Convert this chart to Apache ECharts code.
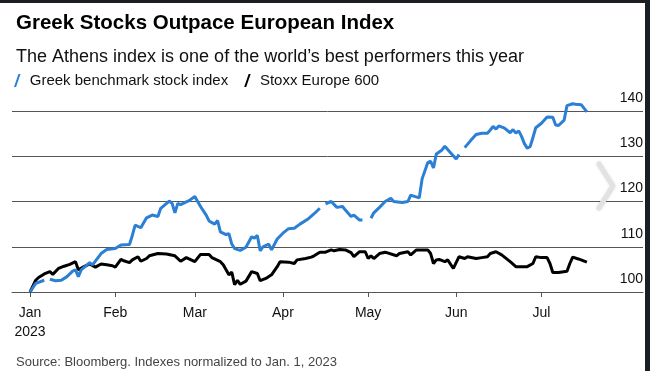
<!DOCTYPE html>
<html><head><meta charset="utf-8">
<script src="https://cdn.jsdelivr.net/npm/echarts@6/dist/echarts.min.js"></script>
<style>html,body{margin:0;padding:0;background:#fff;}#c{width:650px;height:371px;}</style>
</head><body><div id="c"></div>
<script>
const greekDates = ['2023-01-02','2023-01-04','2023-01-07','2023-01-08','2023-01-09','2023-01-11','2023-01-13','2023-01-15','2023-01-17','2023-01-18','2023-01-19','2023-01-20','2023-01-23','2023-01-24','2023-01-27','2023-01-29',
'2023-02-01','2023-02-03','2023-02-06','2023-02-07','2023-02-08','2023-02-10','2023-02-12','2023-02-14','2023-02-16','2023-02-17','2023-02-20','2023-02-21','2023-02-22','2023-02-23','2023-02-24','2023-02-26','2023-02-27',
'2023-03-01','2023-03-02','2023-03-03','2023-03-05','2023-03-06','2023-03-08','2023-03-09','2023-03-10','2023-03-12','2023-03-13','2023-03-14','2023-03-15','2023-03-17','2023-03-19','2023-03-21','2023-03-22','2023-03-23','2023-03-24','2023-03-25','2023-03-27','2023-03-28','2023-03-30',
'2023-04-01','2023-04-03','2023-04-05','2023-04-07','2023-04-10','2023-04-12','2023-04-14','2023-04-15','2023-04-16','2023-04-18','2023-04-20','2023-04-22','2023-04-23','2023-04-25','2023-04-26','2023-04-28','2023-04-29','2023-04-30',
'2023-05-02','2023-05-03','2023-05-05','2023-05-07','2023-05-09','2023-05-10','2023-05-13','2023-05-15','2023-05-16','2023-05-17','2023-05-19','2023-05-20','2023-05-22','2023-05-23','2023-05-24','2023-05-25','2023-05-27','2023-05-28','2023-05-30',
'2023-06-01','2023-06-02','2023-06-03','2023-06-04','2023-06-06','2023-06-08','2023-06-10','2023-06-12','2023-06-13','2023-06-14','2023-06-15','2023-06-16','2023-06-18','2023-06-20','2023-06-21','2023-06-22','2023-06-23','2023-06-24','2023-06-25','2023-06-26','2023-06-27','2023-06-28','2023-06-29',
'2023-07-01','2023-07-03','2023-07-05','2023-07-06','2023-07-07','2023-07-09','2023-07-10','2023-07-12','2023-07-13','2023-07-15','2023-07-17'];
const greekValues = [100,101.9,102.6,null,102.8,102.5,102.6,103.4,104.6,104.9,103.4,104.9,106.5,106,108.5,109.4,
109.6,110.4,110.5,112.5,114.8,114.2,116.4,117,116.7,118.5,120.1,119.6,117.5,119.6,119.3,119.9,120.2,
121.1,120,118.9,117,115.7,115,115.8,113.3,112.7,112.9,110.6,109.6,109.2,109.9,112.2,111.9,112.5,109.1,110,110.6,109.3,111.7,
113,114,114.1,115,116.2,117.3,118.5,null,119.5,120,118.7,118.9,118.1,116.7,117,115.9,115.9,null,
116.3,117.5,118.7,120,120.7,120,119.8,120,121.4,121.2,120.8,125,128.6,128.9,127.4,130.5,131.4,132.2,130.8,
129.4,130.4,null,131.9,133.4,134.8,135.1,135.1,135.8,136.6,136,136.7,136.2,135.2,135.9,135.1,135.6,134.4,132.8,131.8,132.1,134.1,136.3,
137.3,138.7,138.6,136.9,136.8,138,141.2,141.6,141.5,141.4,139.8];

const stoxxDates = ['2023-01-02','2023-01-04','2023-01-05','2023-01-07','2023-01-09','2023-01-10','2023-01-12','2023-01-14','2023-01-16','2023-01-18','2023-01-19','2023-01-21','2023-01-23','2023-01-25','2023-01-27','2023-01-29','2023-01-31',
'2023-02-01','2023-02-03','2023-02-04','2023-02-06','2023-02-07','2023-02-09','2023-02-10','2023-02-12','2023-02-13','2023-02-16','2023-02-19','2023-02-22','2023-02-24','2023-02-26',
'2023-03-01','2023-03-03','2023-03-06','2023-03-07','2023-03-10','2023-03-11','2023-03-12','2023-03-13','2023-03-14','2023-03-15','2023-03-16','2023-03-17','2023-03-19','2023-03-21','2023-03-23','2023-03-24','2023-03-26','2023-03-28','2023-03-30','2023-03-31',
'2023-04-03','2023-04-05','2023-04-06','2023-04-09','2023-04-11','2023-04-12','2023-04-14','2023-04-16','2023-04-18','2023-04-19','2023-04-21','2023-04-23','2023-04-25','2023-04-26','2023-04-28','2023-04-30',
'2023-05-01','2023-05-02','2023-05-03','2023-05-05','2023-05-07','2023-05-11','2023-05-12','2023-05-15','2023-05-16','2023-05-18','2023-05-22','2023-05-23','2023-05-24','2023-05-25','2023-05-26','2023-05-28','2023-05-29','2023-05-31',
'2023-06-02','2023-06-04','2023-06-05','2023-06-08','2023-06-10','2023-06-12','2023-06-13','2023-06-15','2023-06-17','2023-06-20','2023-06-22','2023-06-26','2023-06-28','2023-06-29',
'2023-07-01','2023-07-03','2023-07-04','2023-07-05','2023-07-07','2023-07-10','2023-07-11','2023-07-12','2023-07-14','2023-07-17'];
const stoxxValues = [100,102.6,103.2,104,104.5,103.9,105.2,105.7,106.1,106.7,104.9,105.6,106.2,105.5,106.2,106,105.8,
105.5,107.2,106.9,106.5,107.1,107.8,106.8,107.4,108,108.5,108.4,108,106.8,107.6,
106.7,108.3,108.3,107.6,106.7,106,104.9,103.8,104.4,101.6,102.6,101.7,102.4,104.5,104.1,102.5,103,103.8,105.6,106.7,
106.6,106.3,107.1,107.4,107.7,108,108.8,108.8,109.3,109.1,109.4,109.3,108.7,107.8,108.9,108.9,
107.4,108,107.4,108.5,108.8,108,108.5,108.9,108.2,109.3,109.3,108.5,106.3,107.1,107.2,106.7,107.1,105.2,
107.8,107.4,107.8,107.4,107.6,107.8,108.5,108.9,108.2,106.7,105.6,105.6,106.3,107.8,
107.6,107.6,106.3,104.3,104.3,104.6,106.3,107.7,107.3,106.6];

const tickDates = ['2023-01-02','2023-02-01','2023-03-01','2023-04-01','2023-05-01','2023-06-01','2023-07-01'];
const tickLabels = ['Jan\n2023','Feb','Mar','Apr','May','Jun','Jul'];
const yMin = 100, yMax = 140, yStep = 10;
const seriesNames = ['Greek benchmark stock index','Stoxx Europe 600'];
const seriesColors = ['#2b7fd4','#000000'];

const FONT = 'Liberation Sans, Arial, Helvetica, sans-serif';
// day offset from Jan 1, 2023 (x coordinate of the value axis)
function dayNum(s){ const p = s.split('-').map(Number); return Math.round((Date.UTC(p[0], p[1]-1, p[2]) - Date.UTC(2023,0,1)) / 86400000); }
const tickDays = tickDates.map(dayNum);
const labelMap = new Map(tickDays.map((t,i)=>[t, tickLabels[i]]));

const chart = echarts.init(document.getElementById('c'), null, {renderer:'canvas'});
chart.setOption({
  animation: false,
  backgroundColor: '#ffffff',
  textStyle: {fontFamily: FONT},
  title: [
    {text: 'Greek Stocks Outpace European Index', left: 11, top: 8,
     textStyle: {fontFamily: FONT, fontSize: 20.5, fontWeight: 'bold', color: '#000'}},
    {text: 'The Athens index is one of the world\u2019s best performers this year', left: 11, top: 43,
     textStyle: {fontFamily: FONT, fontSize: 18, fontWeight: 'normal', color: '#111'}},
    {text: 'Source: Bloomberg. Indexes normalized to Jan. 1, 2023', left: 11, top: 351,
     textStyle: {fontFamily: FONT, fontSize: 13, fontWeight: 'normal', color: '#444'}}
  ],
  legend: {
    left: 9, top: 68, itemWidth: 9, itemHeight: 13, itemGap: 16,
    icon: 'path://M0,14 L2.2,14 L7,0 L4.8,0 Z',
    textStyle: {fontFamily: FONT, fontSize: 15, color: '#111', padding: [0,0,0,3]},
    data: seriesNames.map((n,i)=>({name:n, itemStyle:{color: seriesColors[i]}}))
  },
  grid: {left: 12, right: 7, top: 111, bottom: 79, containLabel: false},
  xAxis: {
    type: 'value',
    min: -5.35, max: 216.75,
    axisLine: {show: true, lineStyle: {color: '#555', width: 1}},
    axisTick: {show: true, customValues: tickDays, length: 5, lineStyle: {color: '#555', width: 1}},
    axisLabel: {customValues: tickDays, formatter: v => labelMap.get(v) || '', fontFamily: FONT, fontSize: 14, color: '#111', lineHeight: 19, margin: 12, showMinLabel: true, showMaxLabel: true},
    splitLine: {show: false}
  },
  yAxis: {
    type: 'value', position: 'right', min: yMin, max: yMax, interval: yStep,
    axisLine: {show: false}, axisTick: {show: false},
    splitLine: {show: true, lineStyle: {color: '#555', width: 1}},
    axisLabel: {inside: true, margin: 0, verticalAlign: 'bottom', padding: [0,0,6,0], fontFamily: FONT, fontSize: 14, color: '#111'}
  },
  series: [
    {name: seriesNames[0], type: 'line', data: greekDates.map((d,i)=>[dayNum(d), greekValues[i]]), showSymbol: false, symbol: 'none', clip: false, connectNulls: false,
     lineStyle: {color: seriesColors[0], width: 3}, itemStyle: {color: seriesColors[0]}, z: 3},
    {name: seriesNames[1], type: 'line', data: stoxxDates.map((d,i)=>[dayNum(d), stoxxValues[i]]), showSymbol: false, symbol: 'none', clip: false,
     lineStyle: {color: seriesColors[1], width: 3}, itemStyle: {color: seriesColors[1]}, z: 2}
  ],
  graphic: [
    {type: 'rect', shape: {x: 0, y: 0, width: 650, height: 3}, style: {fill: '#1b1f24'}, z: 100},
    {type: 'rect', shape: {x: 645, y: 0, width: 5, height: 371}, style: {fill: '#1b1f24'}, z: 100},
    {type: 'polyline', shape: {points: [[599,164],[613,186],[599,208]]}, style: {stroke: '#e2e2e2', lineWidth: 5, fill: null, lineJoin: 'round', lineCap: 'round', shadowBlur: 3, shadowColor: 'rgba(0,0,0,0.12)'}, z: 50}
  ]
});
</script></body></html>
